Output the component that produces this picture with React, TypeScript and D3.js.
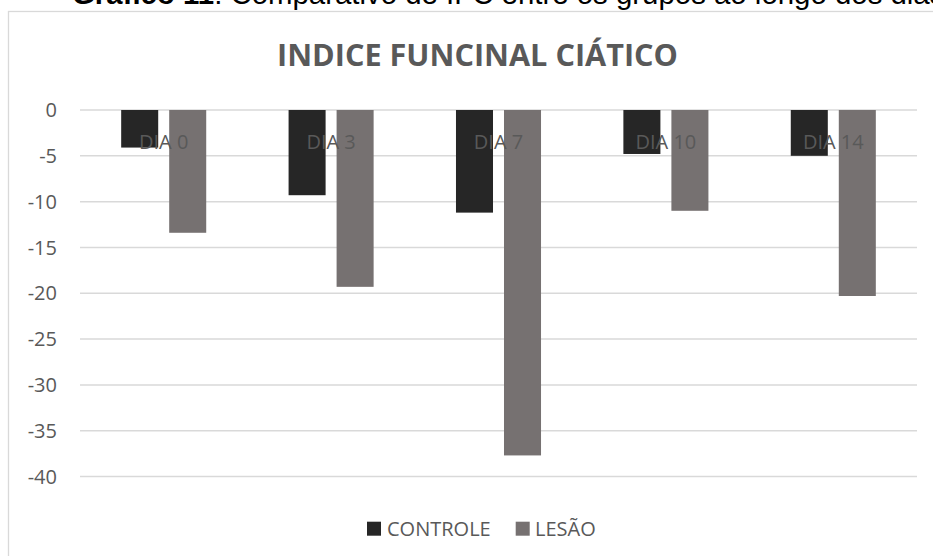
import React from "react";
import * as d3 from "d3";

const categories = ["DIA 0", "DIA 3", "DIA 7", "DIA 10", "DIA 14"];
const seriesNames = ["CONTROLE", "LESÃO"];
const controleValues = [-4.1, -9.3, -11.2, -4.8, -5.0];
const lesaoValues = [-13.4, -19.3, -37.7, -11.0, -20.3];
const yTicks = [0, -5, -10, -15, -20, -25, -30, -35, -40];
const seriesColors = ["#262626", "#767171"];

const W = 933;
const H = 556;
const FONT = "'Open Sans', sans-serif";

export default function App() {
  const x0 = d3
    .scaleBand<string>()
    .domain(categories)
    .range([80, 917])
    .paddingInner(0.492)
    .paddingOuter(0.246);
  const x1 = d3
    .scaleBand<string>()
    .domain(seriesNames)
    .range([0, x0.bandwidth()])
    .paddingInner(0.229)
    .paddingOuter(0);
  const y = d3.scaleLinear().domain([-40, 0]).range([476.5, 110]);

  const seriesValues = [controleValues, lesaoValues];

  return (
    <svg
      width={W}
      height={H}
      style={{ position: "absolute", left: 0, top: 0, background: "#fff" }}
    >
      <rect x={0} y={0} width={W} height={H} fill="#fff" />
      {/* caption */}
      <text
        x={72}
        y={4}
        fontFamily="'Liberation Sans', Arial, sans-serif"
        fontSize={29.4}
        fill="#000"
      >
        <tspan fontWeight="bold">Gráfico 11</tspan>
        <tspan>: Comparativo de IFC entre os grupos ao longo dos dias</tspan>
      </text>
      {/* chart border */}
      <rect
        x={8.5}
        y={11.5}
        width={W + 20}
        height={H + 20}
        fill="#fff"
        stroke="#d9d9d9"
        strokeWidth={1.3}
      />
      {/* title */}
      <text
        x={477.5}
        y={66}
        textAnchor="middle"
        fontFamily={FONT}
        fontWeight={700}
        fontSize={31}
        fill="#595959"
        textLength={401}
        lengthAdjust="spacingAndGlyphs"
      >
        INDICE FUNCINAL CIÁTICO
      </text>
      {/* gridlines */}
      {yTicks.map((t) => (
        <line
          key={"g" + t}
          x1={80}
          x2={917}
          y1={y(t)}
          y2={y(t)}
          stroke="#d9d9d9"
          strokeWidth={1.5}
        />
      ))}
      {/* y tick labels */}
      {yTicks.map((t) => (
        <text
          key={"t" + t}
          x={57}
          y={y(t)}
          dy="0.36em"
          textAnchor="end"
          fontFamily={FONT}
          fontSize={20}
          fill="#595959"
        >
          {t}
        </text>
      ))}
      {/* bars */}
      {categories.map((c, i) => (
        <g key={c} transform={`translate(${x0(c)},0)`}>
          {seriesNames.map((s, j) => {
            const v = seriesValues[j][i];
            return (
              <rect
                key={s}
                x={x1(s)}
                y={y(0)}
                width={x1.bandwidth()}
                height={y(v) - y(0)}
                fill={seriesColors[j]}
              />
            );
          })}
        </g>
      ))}
      {/* category labels */}
      {categories.map((c) => (
        <text
          key={"c" + c}
          x={(x0(c) as number) + x0.bandwidth() / 2}
          y={149}
          textAnchor="middle"
          fontFamily={FONT}
          fontSize={20}
          fill="#595959"
        >
          {c}
        </text>
      ))}
      {/* legend */}
      <g>
        <rect x={367} y={521.7} width={14} height={14} fill={seriesColors[0]} />
        <text x={387} y={535.7} fontFamily={FONT} fontSize={20} fill="#595959">
          {seriesNames[0]}
        </text>
        <rect x={515.7} y={521.7} width={14} height={14} fill={seriesColors[1]} />
        <text x={535} y={535.7} fontFamily={FONT} fontSize={20} fill="#595959">
          {seriesNames[1]}
        </text>
      </g>
    </svg>
  );
}
